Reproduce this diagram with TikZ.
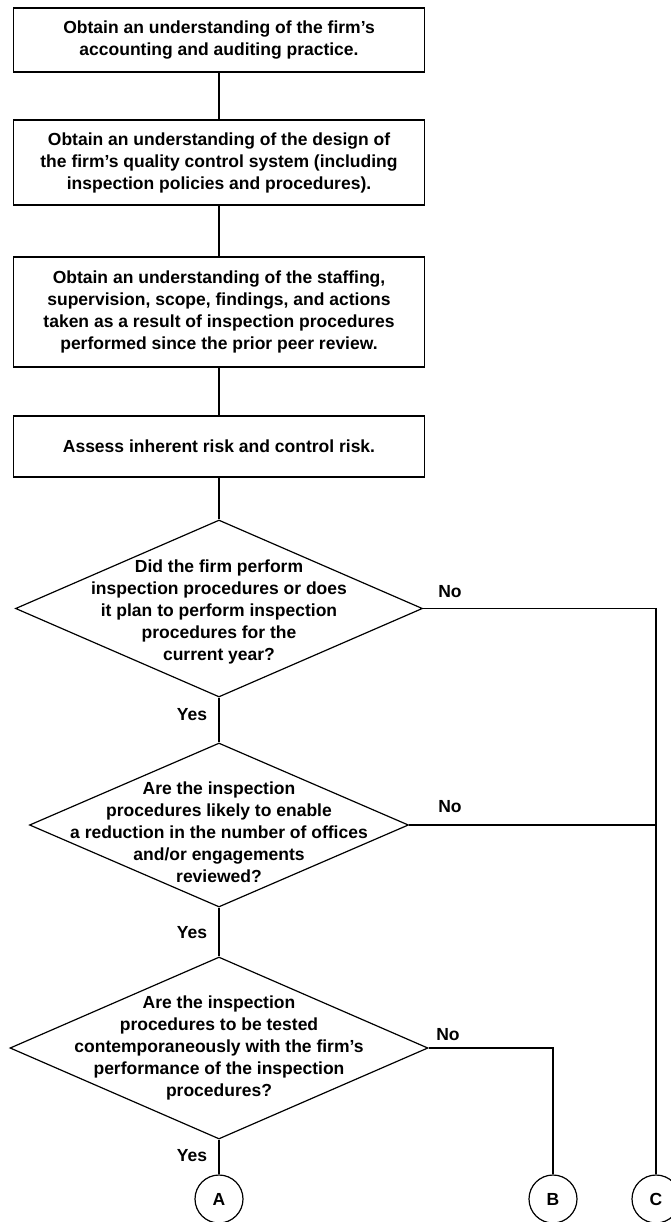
\documentclass[tikz,border=0pt]{standalone}
\usepackage{fontspec}
\setmainfont{Liberation Sans}
\usetikzlibrary{shapes.geometric}
\begin{document}
\begin{tikzpicture}[x=1pt,y=-1pt,
  line width=1.2pt,
  txt/.style={font=\bfseries\fontsize{17.5}{22}\selectfont, align=center, inner sep=0pt},
  stepbox/.style={draw, rectangle, minimum width=411pt, inner sep=0pt, txt},
  decision/.style={draw, diamond, inner sep=0pt},
  connector/.style={draw, circle, minimum size=48pt, inner sep=0pt, txt},
  lbl/.style={txt}]
\useasboundingbox (0,0) rectangle (670,1222);

% process steps
\node[stepbox, minimum height=64pt] (b1) at (219,40)
  {Obtain an understanding of the firm's\\accounting and auditing practice.};
\node[stepbox, minimum height=85pt] (b2) at (219,162.5)
  {Obtain an understanding of the design of\\the firm's quality control system (including\\inspection policies and procedures).};
\node[stepbox, minimum height=110pt] (b3) at (219,312)
  {Obtain an understanding of the staffing,\\supervision, scope, findings, and actions\\taken as a result of inspection procedures\\performed since the prior peer review.};
\node[stepbox, minimum height=61pt] (b4) at (219,446.5)
  {Assess inherent risk and control risk.};

% decisions
\node[decision, minimum width=407pt, minimum height=177pt] (d1) at (219,608.5) {};
\node[txt] (d1t) at (219,612)
  {Did the firm perform\\inspection procedures or does\\it plan to perform inspection\\procedures for the\\current year?};
\node[decision, minimum width=379pt, minimum height=164pt] (d2) at (219,825) {};
\node[txt] (d2t) at (219,832)
  {Are the inspection\\procedures likely to enable\\a reduction in the number of offices\\and/or engagements\\reviewed?};
\node[decision, minimum width=418pt, minimum height=182pt] (d3) at (219,1048) {};
\node[txt] (d3t) at (219,1048)
  {Are the inspection\\procedures to be tested\\contemporaneously with the firm's\\performance of the inspection\\procedures?};

% off-page connectors
\node[connector] (A) at (219,1199) {A};
\node[connector] (B) at (553,1199) {B};
\node[connector] (C) at (656,1199) {C};

% flow lines
\draw (b1.south) -- (b2.north);
\draw (b2.south) -- (b3.north);
\draw (b3.south) -- (b4.north);
\draw (b4.south) -- (d1.north);
\draw (d1.south) -- (d2.north);
\draw (d2.south) -- (d3.north);
\draw (d3.south) -- (A.north);
\draw (d1.east) -| (C.north);
\draw (d2.east) -- (d2.east -| C.north);
\draw (d3.east) -| (B.north);

% branch labels
\node[lbl] (y1) at (192,715) {Yes};
\node[lbl] (y2) at (192,933) {Yes};
\node[lbl] (y3) at (192,1156) {Yes};
\node[lbl] (n1) at (450,592) {No};
\node[lbl] (n2) at (450,807) {No};
\node[lbl] (n3) at (448,1035) {No};
\end{tikzpicture}
\end{document}
